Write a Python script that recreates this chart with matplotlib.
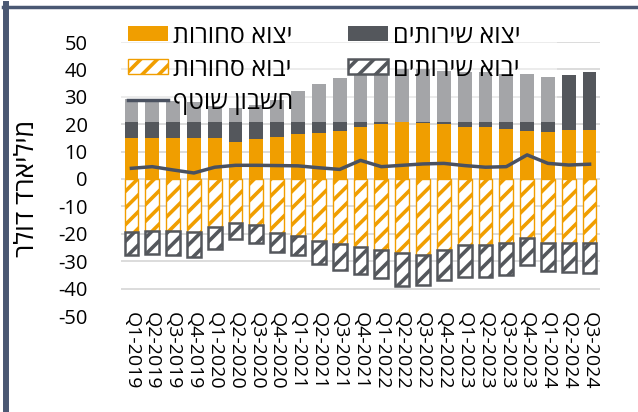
import matplotlib.pyplot as plt
import matplotlib.patches as mpatches
from matplotlib.lines import Line2D
import numpy as np

plt.rcParams['font.family'] = ['Open Sans', 'DejaVu Sans']
plt.rcParams['axes.unicode_minus'] = False
plt.rcParams['hatch.linewidth'] = 2.6

# רבעונים
quarters = ['Q1-2019', 'Q2-2019', 'Q3-2019', 'Q4-2019',
            'Q1-2020', 'Q2-2020', 'Q3-2020', 'Q4-2020',
            'Q1-2021', 'Q2-2021', 'Q3-2021', 'Q4-2021',
            'Q1-2022', 'Q2-2022', 'Q3-2022', 'Q4-2022',
            'Q1-2023', 'Q2-2023', 'Q3-2023', 'Q4-2023',
            'Q1-2024', 'Q2-2024', 'Q3-2024']

# מיליארד דולר
goods_exp = [15.1, 15.1, 15.1, 15.1, 15.1, 13.6, 14.5, 15.4, 16.4, 16.7, 17.6, 18.9,
             20.0, 20.7, 20.6, 20.0, 18.9, 18.9, 18.2, 17.5, 17.3, 17.9, 17.9]
services_exp = [14.1, 14.1, 13.4, 12.9, 11.4, 12.2, 12.5, 13.6, 15.8, 17.9, 19.1, 19.1,
                19.5, 19.3, 19.4, 19.5, 20.1, 20.1, 20.3, 21.0, 20.0, 20.1, 21.3]
goods_imp = [-19.2, -19.0, -19.0, -19.2, -17.4, -15.9, -16.8, -19.7, -20.8, -22.5, -23.7, -24.9,
             -26.0, -27.1, -27.6, -25.8, -24.1, -24.1, -23.2, -21.7, -23.2, -23.2, -23.5]
services_imp = [-8.5, -8.4, -8.7, -9.2, -8.1, -6.1, -6.7, -6.8, -6.9, -8.6, -9.5, -9.8,
                -10.2, -11.9, -11.1, -11.1, -11.8, -11.5, -11.8, -9.8, -10.4, -10.9, -10.9]
current_acc = [3.9, 4.5, 3.3, 2.2, 4.3, 5.0, 5.0, 4.9, 4.8, 4.1, 3.5, 6.8,
               4.5, 5.0, 5.5, 5.7, 4.9, 4.3, 4.5, 8.8, 5.7, 5.1, 5.4]


def heb(s):
    # matplotlib לא הופך טקסט מימין לשמאל
    return s[::-1]


orange = '#F09E00'
dark = '#54575C'
line_c = '#4A5160'

fig = plt.figure(figsize=(6.38, 4.12), dpi=100)
ax = fig.add_axes([121 / 638, 1 - 316 / 412, 479 / 638, 274 / 412])

x = np.arange(len(quarters))
w = 0.66
b1 = ax.bar(x, goods_exp, w, color=orange, zorder=2)
b2 = ax.bar(x, services_exp, w, bottom=goods_exp, color=dark, zorder=2)
b3 = ax.bar(x, goods_imp, w, facecolor='white', edgecolor=orange, hatch='//', lw=1.0, zorder=2)
b4 = ax.bar(x, services_imp, w, bottom=goods_imp, facecolor='white', edgecolor=dark,
            hatch='//', lw=1.8, zorder=2)
ln, = ax.plot(x, current_acc, color=line_c, lw=2.5, zorder=3)

ax.set_xlim(-0.5, len(quarters) - 0.5)
ax.set_ylim(-50, 50)
ax.set_yticks(range(-50, 51, 10))
ax.set_xticks(x, quarters, rotation=270, fontsize=14)
ax.tick_params(axis='x', length=0, pad=-3)
ax.tick_params(axis='y', length=0, pad=24, labelsize=14.5)
for s in ax.spines.values():
    s.set_visible(False)
ax.set_axisbelow(True)
ax.yaxis.grid(True, color='#D9D9D9', lw=1.3)
ax.get_ygridlines()[0].set_visible(False)

# רקע שקוף של המקרא
ax.add_patch(mpatches.Rectangle((0, 0.709), 0.91, 0.45, transform=ax.transAxes,
                                facecolor='white', alpha=0.47, edgecolor='none',
                                zorder=4, clip_on=False))

handles = [b1, b3, ln, b2, b4]
labels = [heb('יצוא סחורות'), heb('יבוא סחורות'), heb('חשבון שוטף'),
          heb('יצוא שירותים'), heb('יבוא שירותים')]
leg = ax.legend(handles, labels, ncol=2, loc='upper left', bbox_to_anchor=(0.0146, 1.067),
                frameon=False, fontsize=18, handlelength=1.6, handleheight=0.55,
                handletextpad=0.2, columnspacing=2.2, labelspacing=0.32,
                borderpad=0, borderaxespad=0)
leg.set_zorder(6)

fig.text(27 / 638, 1 - 188 / 412, heb('מיליארד דולר'), rotation=90, fontsize=19,
         ha='center', va='center')

# מסגרת
fig.add_artist(Line2D([6.2 / 638, 6.2 / 638], [0, 1 - 4 / 412], color='#4A5873', lw=4.3))
fig.add_artist(Line2D([3.3 / 638, 1], [1 - 6.7 / 412, 1 - 6.7 / 412], color='#4A5873', lw=2.5))

fig.savefig('out.png', dpi=100)
